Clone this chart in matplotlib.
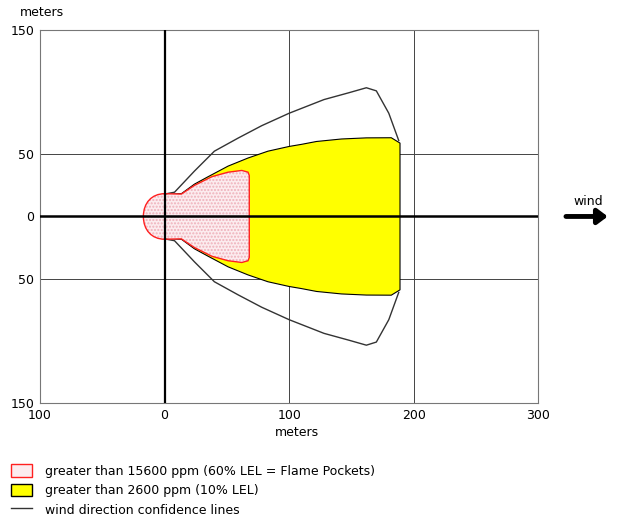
import matplotlib.pyplot as plt
from matplotlib.path import Path
from matplotlib.patches import PathPatch, Polygon, Patch
from matplotlib.lines import Line2D

# threat zone outlines (meters), top half; bottom half is the mirror
conf_x = [0, 8, 24, 40, 59, 78, 100, 128, 148, 162, 170, 180, 188]
conf_y = [18, 19.5, 36.5, 52.5, 63, 73, 83, 94, 99.5, 103.5, 101, 83, 61]

yellow_x = [5, 13.5, 24, 35, 51, 67, 83, 100, 110, 122, 142, 162, 182, 189]
yellow_y = [18, 18.3, 26, 32, 40.5, 47, 52.5, 56.3, 58, 60.3, 62.3, 63.2, 63.3, 59]

red_x = [0, 13.5, 24, 38, 51, 62, 67, 68]
red_y = [18.3, 18, 25, 32, 35.6, 37, 35.6, 33]
red_nose = 17  # how far the rounded end reaches upwind

xticks = [-100, 0, 100, 200, 300]
xtick_labels = ['100', '0', '100', '200', '300']
yticks = [-150, -50, 0, 50, 150]
ytick_labels = ['150', '50', '0', '50', '150']

legend_labels = ['greater than 15600 ppm (60% LEL = Flame Pockets)',
                 'greater than 2600 ppm (10% LEL)',
                 'wind direction confidence lines']

fig = plt.figure(figsize=(6.19, 5.24), dpi=100)
ax = fig.add_axes([0.0646, 0.2309, 0.805, 0.712])
ax.set_xlim(-100, 300)
ax.set_ylim(-150, 150)

ax.set_xticks(xticks)
ax.set_xticklabels(xtick_labels)
ax.set_yticks(yticks)
ax.set_yticklabels(ytick_labels)
ax.tick_params(length=0, labelsize=9, pad=4)
ax.grid(True, color='#444444', lw=0.7)
ax.set_axisbelow(True)
for s in ax.spines.values():
    s.set_color('#777777')
    s.set_linewidth(0.8)

# yellow zone
ypts = list(zip(yellow_x, yellow_y)) + list(zip(yellow_x[::-1], [-v for v in yellow_y[::-1]]))
ax.add_patch(Polygon(ypts, closed=True, facecolor='#ffff00', edgecolor='black', lw=0.8, zorder=3))

# red zone: straight segments plus rounded nose
top = list(zip(red_x, red_y))
bot = list(zip(red_x[::-1], [-v for v in red_y[::-1]]))
verts = top + bot
codes = [Path.MOVETO] + [Path.LINETO] * (len(verts) - 1)
r = red_y[0]
verts += [(-0.6 * red_nose, -r), (-red_nose, -0.6 * r), (-red_nose, 0),
          (-red_nose, 0.6 * r), (-0.6 * red_nose, r), (0, r), (0, r)]
codes += [Path.CURVE4] * 6 + [Path.CLOSEPOLY]
red_path = Path(verts, codes)
ax.add_patch(PathPatch(red_path, facecolor='#fcecef', edgecolor='#eeb0ba', lw=0,
                       hatch='.....', zorder=4))
ax.add_patch(PathPatch(red_path, facecolor='none', edgecolor='#ff2020', lw=1.0, zorder=5))

# confidence lines
ax.plot(conf_x, conf_y, color='#333333', lw=1.0, zorder=4)
ax.plot(conf_x, [-v for v in conf_y], color='#333333', lw=1.0, zorder=4)

# centre lines
ax.axhline(0, color='black', lw=1.8, zorder=6)
ax.axvline(0, color='black', lw=1.6, zorder=6)

# wind arrow
ax.annotate('', xy=(358, 0), xytext=(320, 0), xycoords='data', annotation_clip=False,
            arrowprops=dict(arrowstyle='-|>,head_length=0.6,head_width=0.45', lw=3.5, color='black'))
ax.text(340, 7, 'wind', ha='center', va='bottom', fontsize=9, clip_on=False)

fig.text(20 / 619, 1 - 13 / 524, 'meters', fontsize=9, ha='left', va='center')
fig.text(297 / 619, 1 - 432 / 524, 'meters', fontsize=9, ha='center', va='center')

handles = [Patch(facecolor='#fcecef', edgecolor='#ff2020', lw=1.0),
           Patch(facecolor='#ffff00', edgecolor='black', lw=1.0),
           Line2D([], [], color='#333333', lw=1.0)]
fig.legend(handles, legend_labels, loc='lower left', bbox_to_anchor=(0.005, 0.0),
           frameon=False, fontsize=9, handlelength=1.75, handleheight=1.2,
           handletextpad=1.0, labelspacing=0.45, borderaxespad=0.2)

fig.savefig('out.png', dpi=100)
